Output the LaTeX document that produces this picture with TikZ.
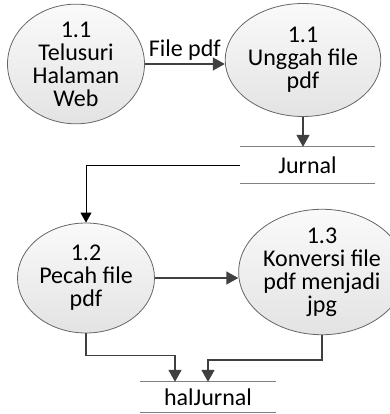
\documentclass[tikz,border=0pt]{standalone}
\usepackage{fontspec}
\setmainfont{Carlito}
\usetikzlibrary{shapes.geometric,arrows.meta,calc}
\tikzset{
  txt/.style={font=\fontsize{24}{23}\selectfont},
  proc/.style={ellipse, draw=black!60, line width=0.8pt, top color=white!98!black, bottom color=white!89!black,
    inner sep=0pt, align=center, txt},
  storebox/.style={rectangle, inner sep=0pt, txt},
  flow/.style={draw=black!75, line width=1.6pt, -{Triangle[length=12pt,width=13pt]}},
  thinflow/.style={draw=black, line width=0.8pt, -{Triangle[length=10pt,width=11pt]}},
  storeline/.style={draw=black!50, line width=1pt},
}
\begin{document}
\begin{tikzpicture}[x=1pt,y=-1pt]
\useasboundingbox (0,0) rectangle (389,414);
\node[proc, minimum width=137pt, minimum height=106pt] (e1) at (76,64) {1.1\\Telusuri\\Halaman\\Web};
\node[proc, minimum width=128pt, minimum height=113pt] (e2) at (303,60) {1.1\\Unggah file\\pdf};
\node[proc, minimum width=137pt, minimum height=110pt] (e3) at (86,278) {1.2\\Pecah file\\pdf};
\node[proc, minimum width=133pt, minimum height=117pt] (e4) at (322,272) {1.3\\Konversi file\\pdf menjadi\\jpg};
\node[storebox, minimum width=135pt, minimum height=36pt] (j) at (307.5,165) {Jurnal};
\node[storebox, minimum width=136pt, minimum height=30pt] (h) at (208,397) {halJurnal};
\draw[storeline] (j.north west) -- (j.north east) (j.south west) -- (j.south east);
\draw[storeline] (h.north west) -- (h.north east) (h.south west) -- (h.south east);
\draw[flow] (e1.east) -- (e1.east -| e2.west) node[midway, above, txt, inner sep=2.5pt] (lbl) {File pdf};
\draw[flow] (e2.south) -- (e2.south |- j.north);
\draw[thinflow] (j.west) -| (e3.north);
\draw[flow] (e3.east) -- (e3.east -| e4.west);
\draw[flow] (e3.south) -- ++(0,22) -| ([xshift=-33pt]h.north);
\draw[flow] (e4.south) -- ++(0,25) -| (h.north);
\end{tikzpicture}
\end{document}
